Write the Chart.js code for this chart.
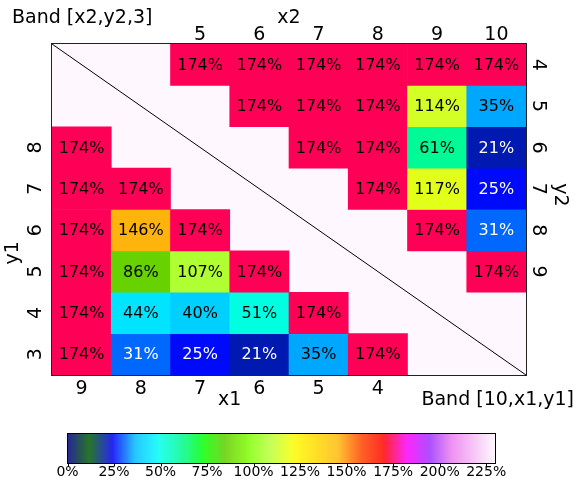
<!DOCTYPE html>
<html><head><meta charset="utf-8">
<script src="https://cdn.jsdelivr.net/npm/chart.js@4.4.0/dist/chart.umd.min.js"></script>
<style>html,body{margin:0;padding:0;background:#fff}#wrap{width:576px;height:483px}</style>
</head><body><div id="wrap"><canvas id="c" width="576" height="483"></canvas></div>
<script>
// ---- data ----
const colLabelsX1 = ['9','8','7','6','5','4','',''];
const colLabelsX2 = ['','','5','6','7','8','9','10'];
const rowLabelsY1 = ['','','8','7','6','5','4','3'];
const rowLabelsY2 = ['4','5','6','7','8','9','',''];
const row0 = [null,null,174,174,174,174,174,174];
const row1 = [null,null,null,174,174,174,114,35];
const row2 = [174,null,null,null,174,174,61,21];
const row3 = [174,174,null,null,null,174,117,25];
const row4 = [174,146,174,null,null,null,174,31];
const row5 = [174,86,107,174,null,null,null,174];
const row6 = [174,44,40,51,174,null,null,null];
const row7 = [174,31,25,21,35,174,null,null];
const rows = [row0,row1,row2,row3,row4,row5,row6,row7];
const titleTopLeft = 'Band [x2,y2,3]';
const titleBottomRight = 'Band [10,x1,y1]';
const cbTicks = [0,25,50,75,100,125,150,175,200,225];
const cbMin = 0, cbMax = 230;

// ---- gist_ncar colormap ----
const NCAR = {
 r:[[0,0],[0.3098,0],[0.3725,0.3993],[0.4235,0.5003],[0.5333,1],[0.7922,1],[0.8471,0.6218],[0.8980,0.9235],[1,0.9961]],
 g:[[0,0],[0.0510,0.3722],[0.1059,0],[0.1569,0.7202],[0.1608,0.7537],[0.1647,0.7752],[0.2157,1],[0.2588,0.9804],[0.2706,0.9804],[0.3176,1],[0.3686,0.8081],[0.4275,1],[0.5216,1],[0.6314,0.7292],[0.6863,0.2796],[0.7451,0],[0.7922,0],[0.8431,0.1753],[0.8980,0.5],[1,0.9725]],
 b:[[0,0.5020],[0.0510,0.0222],[0.1098,1],[0.2039,1],[0.2627,0.6145],[0.3216,0],[0.4157,0],[0.4745,0.2342],[0.5333,0],[0.5804,0],[0.6314,0.0549],[0.6902,0],[0.7373,0],[0.7922,0.9738],[0.8,1],[0.8431,1],[0.8980,0.9341],[1,0.9961]]
};
function interp(seg, t){
  for(let i=1;i<seg.length;i++){
    if(t<=seg[i][0]){const a=seg[i-1],b=seg[i];return a[1]+(b[1]-a[1])*(t-a[0])/(b[0]-a[0]);}
  }
  return seg[seg.length-1][1];
}
function cmapRGB(v){
  const t=Math.max(0,Math.min(1,(v-cbMin)/(cbMax-cbMin)));
  return [interp(NCAR.r,t),interp(NCAR.g,t),interp(NCAR.b,t)].map(x=>Math.round(x*255));
}
function cmap(v){const c=cmapRGB(v);return `rgb(${c[0]},${c[1]},${c[2]})`;}
function lin(c){c/=255;return c<=0.03928?c/12.92:Math.pow((c+0.055)/1.055,2.4);}
function textColor(v){const c=cmapRGB(v);const l=0.2126*lin(c[0])+0.7152*lin(c[1])+0.0722*lin(c[2]);return l<0.195?'#fff':'#000';}
const bgColor = cmap(cbMax);

const FONT = "'DejaVu Sans', sans-serif";
const N = 8;
const datasets = rows.map((row,r)=>({
  label:'row'+r,
  data: row.map(v=> v==null?null:[N-1-r, N-r]),
  values: row,
  backgroundColor: row.map(v=> v==null?'rgba(0,0,0,0)':cmap(v)),
  borderWidth:0,
  grouped:false,
  barPercentage:1,
  categoryPercentage:1,
  xAxisID:'x', yAxisID:'y'
}));

const deco = {
  id:'deco',
  beforeDatasetsDraw(chart){
    const {ctx, chartArea:a} = chart;
    ctx.save();
    ctx.fillStyle = bgColor;
    ctx.fillRect(a.left,a.top,a.right-a.left,a.bottom-a.top);
    ctx.restore();
  },
  afterDatasetsDraw(chart){
    const {ctx, chartArea:a, scales} = chart;
    const sx = scales.x, sy = scales.y;
    ctx.save();
    // cell labels
    ctx.font = `16px ${FONT}`;
    ctx.textAlign='center'; ctx.textBaseline='middle';
    chart.data.datasets.forEach((ds,di)=>{
      const meta = chart.getDatasetMeta(di);
      meta.data.forEach((el,i)=>{
        const v = ds.values[i];
        if(v==null) return;
        const p = el.getCenterPoint();
        ctx.fillStyle = textColor(v);
        ctx.fillText(v+'%', p.x, p.y+1);
      });
    });
    // diagonal
    ctx.strokeStyle='#000'; ctx.lineWidth=1;
    ctx.beginPath();
    ctx.moveTo(sx.getPixelForValue(-0.5), sy.getPixelForValue(N));
    ctx.lineTo(sx.getPixelForValue(N-0.5), sy.getPixelForValue(0));
    ctx.stroke();
    // frame
    ctx.strokeStyle='#222';
    ctx.strokeRect(a.left-0.5,a.top-0.5,a.right-a.left+1,a.bottom-a.top+1);
    ctx.restore();
  },
  afterDraw(chart){
    const {ctx, chartArea:a, scales} = chart;
    const sx = scales.x, sy = scales.y;
    ctx.save();
    ctx.fillStyle='#000';
    ctx.font = `19px ${FONT}`;
    ctx.textBaseline='middle';
    // titles
    ctx.textAlign='left';
    ctx.fillText(titleTopLeft, 12, 18);
    ctx.textAlign='right';
    ctx.fillText(titleBottomRight, 574, 400);
    ctx.textAlign='center';
    const x1c = (sx.getPixelForValue(0)+sx.getPixelForValue(5))/2;
    ctx.fillText('x1', x1c, 400);
    ctx.fillText('x2', (a.left+a.right)/2, 18);
    ctx.save(); ctx.translate(13, (sy.getPixelForValue(5.5)+sy.getPixelForValue(0.5))/2+2); ctx.rotate(-Math.PI/2); ctx.fillText('y1',0,0); ctx.restore();
    ctx.save(); ctx.translate(560, 195); ctx.rotate(Math.PI/2); ctx.fillText('y2',0,0); ctx.restore();
    // colorbar
    const L=67.5, R=495.5, T=433.5, B=463.5;
    for(let px=0; px<R-L; px++){
      ctx.fillStyle = cmap(cbMin + (px+0.5)/(R-L)*(cbMax-cbMin));
      ctx.fillRect(L+px, T, 1.2, B-T);
    }
    ctx.strokeStyle='#000'; ctx.lineWidth=1;
    ctx.strokeRect(L,T,R-L,B-T);
    ctx.font = `14px ${FONT}`;
    ctx.textAlign='center'; ctx.textBaseline='middle';
    ctx.fillStyle='#000';
    cbTicks.forEach(t=>{
      const x = L + (t-cbMin)/(cbMax-cbMin)*(R-L);
      ctx.beginPath(); ctx.moveTo(Math.round(x)+0.5,B); ctx.lineTo(Math.round(x)+0.5,B+3); ctx.stroke();
      ctx.fillText(t+'%', x, 472.5);
    });
    ctx.restore();
  }
};

const tickFont = {family:FONT, size:19};
new Chart(document.getElementById('c'), {
  type:'bar',
  data:{ labels: colLabelsX1, datasets },
  options:{
    responsive:false, animation:false, devicePixelRatio:1,
    layout:{padding:{left:0,right:0,top:0,bottom:73}},
    plugins:{legend:{display:false}, tooltip:{enabled:false}, title:{display:false}},
    scales:{
      x:{type:'category', position:'bottom', offset:true, min:0, max:7,
         grid:{display:false, drawTicks:false}, border:{display:false},
         ticks:{font:tickFont, color:'#000', padding:2.5, maxRotation:0, autoSkip:false},
         afterFit:s=>{s.height=35;}},
      x2:{type:'category', position:'top', labels:colLabelsX2, offset:true, min:0, max:7,
         grid:{display:false, drawTicks:false}, border:{display:false},
         ticks:{font:tickFont, color:'#000', padding:-2, maxRotation:0, autoSkip:false},
         afterFit:s=>{s.height=44;}},
      y:{type:'linear', min:0, max:N, display:false},
      yL:{type:'category', position:'left', labels:rowLabelsY1, offset:true, min:0, max:7,
         grid:{display:false, drawTicks:false}, border:{display:false},
         ticks:{font:tickFont, color:'#000', padding:9.5, minRotation:90, maxRotation:90, crossAlign:'center', autoSkip:false},
         afterFit:s=>{s.width=52;}},
      yR:{type:'category', position:'right', labels:rowLabelsY2, offset:true, min:0, max:7,
         grid:{display:false, drawTicks:false}, border:{display:false},
         ticks:{font:tickFont, color:'#000', padding:5.5, minRotation:-90, maxRotation:-90, crossAlign:'center', autoSkip:false},
         afterFit:s=>{s.width=50;}}
    }
  },
  plugins:[deco]
});
</script></body></html>
